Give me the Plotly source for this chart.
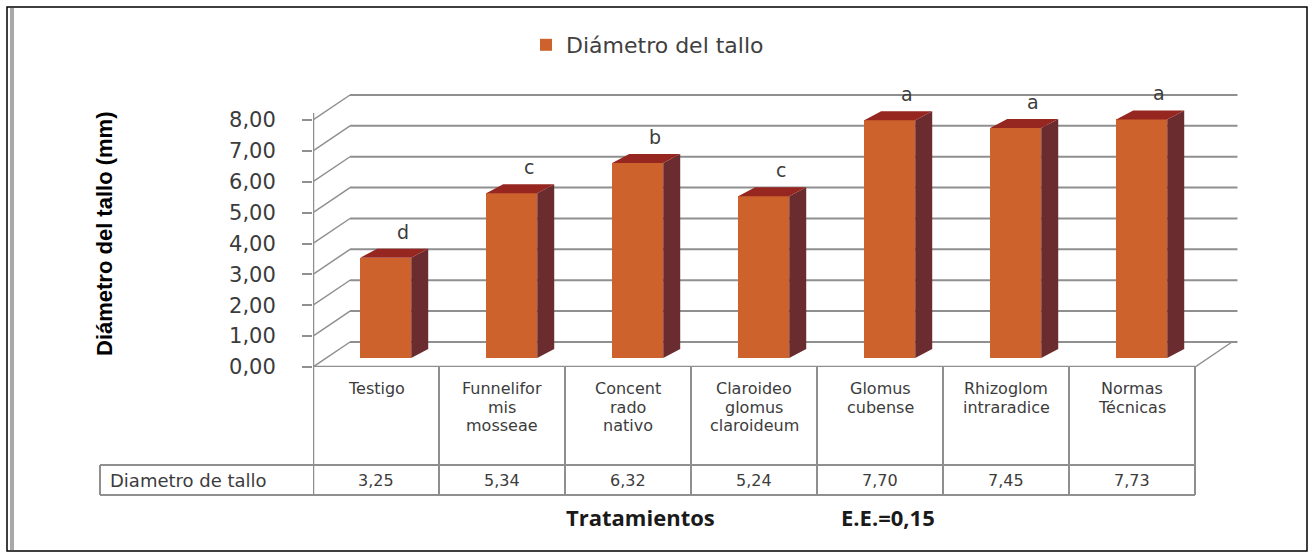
import plotly.graph_objects as go

# ---------------- data ----------------
categories = ["Testigo", "Funnelifor<br>mis<br>mosseae", "Concent<br>rado<br>nativo",
              "Claroideo<br>glomus<br>claroideum", "Glomus<br>cubense",
              "Rhizoglom<br>intraradice", "Normas<br>Técnicas"]
values = [3.25, 5.34, 6.32, 5.24, 7.70, 7.45, 7.73]
letters = ["d", "c", "b", "c", "a", "a", "a"]
y_ticks = [0, 1, 2, 3, 4, 5, 6, 7, 8]
series_name = "Diámetro del tallo"
row_label = "Diametro de tallo"
y_title = "Diámetro del tallo (mm)"
x_title = "Tratamientos"
se_label = "E.E.=0,15"

# ---------------- geometry / style ----------------
W, H = 1312, 557
def px(x): return x / W
def py(y): return 1 - y / H

X0_PX, X1_PX, CAT_PX = 313, 1240, 126
Y0_PX, Y1_PX, UNIT_PX = 367, 85, 30.875
x_range = [-0.5, -0.5 + (X1_PX - X0_PX) / CAT_PX]
y_range = [0, (Y0_PX - Y1_PX) / UNIT_PX]
n = len(values)

wall_dx, wall_dy = 37 / CAT_PX, 25 / UNIT_PX       # depth of back wall
bar_off, bar_w, bar_base = 0.077, 0.405, 0.29       # bar front face
bdx, bdy = 17 / CAT_PX, 9 / UNIT_PX                 # bar depth

FRONT, SIDE, TOP = "#CD622C", "#6B2C2F", "#962620"
GRID = "#8f8f8f"
TXT = "#3c3c3c"

fig = go.Figure()

# front faces of bars
xs = [i + bar_off for i in range(n)]
fig.add_trace(go.Bar(x=xs, y=values, base=[bar_base] * n, width=bar_w,
                     marker=dict(color=FRONT, line=dict(width=0)),
                     name=series_name, showlegend=True, hoverinfo="skip"))

# side and top faces
sx, sy, tx, ty = [], [], [], []
for x, v in zip(xs, values):
    xl, xr = x - bar_w / 2, x + bar_w / 2
    top = v + bar_base
    sx += [xr, xr + bdx, xr + bdx, xr, xr, None]
    sy += [bar_base, bar_base + bdy, top + bdy, top, bar_base, None]
    tx += [xl, xl + bdx, xr + bdx, xr, xl, None]
    ty += [top, top + bdy, top + bdy, top, top, None]
fig.add_trace(go.Scatter(x=sx, y=sy, fill="toself", fillcolor=SIDE, mode="lines",
                         line=dict(width=0, color=SIDE), showlegend=False, hoverinfo="skip"))
fig.add_trace(go.Scatter(x=tx, y=ty, fill="toself", fillcolor=TOP, mode="lines",
                         line=dict(width=0, color=TOP), showlegend=False, hoverinfo="skip"))

shapes = []
# back wall + left wall grid
for v in y_ticks:
    shapes.append(dict(type="line", xref="x", yref="y", layer="below",
                       x0=-0.5 + wall_dx, x1=x_range[1] - 0.02, y0=v + wall_dy, y1=v + wall_dy,
                       line=dict(color=GRID, width=2)))
    shapes.append(dict(type="line", xref="x", yref="y", layer="below",
                       x0=-0.5, x1=-0.5 + wall_dx, y0=v, y1=v + wall_dy,
                       line=dict(color=GRID, width=1.5)))
# floor right edge
shapes.append(dict(type="line", xref="x", yref="y", layer="below",
                   x0=n - 0.5, x1=n - 0.5 + wall_dx, y0=0, y1=wall_dy,
                   line=dict(color=GRID, width=1.5)))
# front floor line / table top
shapes.append(dict(type="line", xref="x", yref="y", x0=-0.6, x1=n - 0.5, y0=0, y1=0,
                   line=dict(color=GRID, width=2.5)))
# vertical axis line (through the table)
shapes.append(dict(type="line", xref="x", yref="paper", x0=-0.5, x1=-0.5,
                   y0=py(495), y1=py(113), line=dict(color=GRID, width=2.5)))
# table column lines
for k in range(1, n + 1):
    shapes.append(dict(type="line", xref="x", yref="paper", x0=k - 0.5, x1=k - 0.5,
                       y0=py(495), y1=py(367), line=dict(color=GRID, width=2)))
# table rows
for yy in (465, 495):
    shapes.append(dict(type="line", xref="paper", yref="paper", x0=px(100),
                       x1=px(X0_PX + CAT_PX * n), y0=py(yy), y1=py(yy),
                       line=dict(color=GRID, width=2)))
shapes.append(dict(type="line", xref="paper", yref="paper", x0=px(100), x1=px(100),
                   y0=py(465), y1=py(495), line=dict(color=GRID, width=2)))
# outer frame
shapes.append(dict(type="rect", xref="paper", yref="paper", x0=px(7), x1=px(1307),
                   y0=py(551), y1=py(7), line=dict(color="#000000", width=1.5)))
shapes.append(dict(type="line", xref="paper", yref="paper", x0=px(12), x1=px(12),
                   y0=py(550), y1=py(8), line=dict(color="#a8a8a8", width=4)))

annotations = []
LINE_PITCH = 18
for i, (c, v, l) in enumerate(zip(categories, values, letters)):
    for j, part in enumerate(c.split("<br>")):
        annotations.append(dict(xref="x", yref="paper", x=i, y=py(389 + LINE_PITCH * j),
                                yanchor="middle", text=part, showarrow=False,
                                font=dict(size=16, color=TXT)))
    annotations.append(dict(xref="x", yref="paper", x=i, y=py(480), yanchor="middle",
                            text=f"{v:.2f}".replace(".", ","), showarrow=False,
                            font=dict(size=16, color=TXT)))
    annotations.append(dict(xref="x", yref="y", x=i + bar_off + 0.14, y=v + bar_base + 0.84,
                            yanchor="middle", text=l, showarrow=False,
                            font=dict(size=19, color=TXT)))
annotations.append(dict(xref="paper", yref="paper", x=px(108), y=py(480), xanchor="left",
                        yanchor="middle", text=row_label, showarrow=False,
                        font=dict(size=18, color=TXT)))
annotations.append(dict(xref="paper", yref="paper", x=px(104), y=py(234), textangle=-90,
                        xanchor="center", yanchor="middle",
                        text=f"<b>{y_title}</b>", showarrow=False,
                        font=dict(size=22, color="#000000", family="Liberation Sans")))
annotations.append(dict(xref="paper", yref="paper", x=px(640), y=py(517),
                        xanchor="center", yanchor="middle",
                        text=f"<b>{x_title}</b>", showarrow=False,
                        font=dict(size=22, color="#1a1a1a", family="Open Sans")))
annotations.append(dict(xref="paper", yref="paper", x=px(888), y=py(517),
                        xanchor="center", yanchor="middle",
                        text=f"<b>{se_label}</b>", showarrow=False,
                        font=dict(size=22, color="#1a1a1a", family="Open Sans")))

fig.update_layout(
    width=W, height=H, margin=dict(l=0, r=0, t=0, b=0),
    paper_bgcolor="white", plot_bgcolor="rgba(0,0,0,0)",
    font=dict(family="DejaVu Sans", color=TXT),
    separators=",.",
    xaxis=dict(domain=[px(X0_PX), px(X1_PX)], range=x_range, visible=False,
               fixedrange=True, automargin=False),
    yaxis=dict(domain=[py(Y0_PX), py(Y1_PX)], range=y_range, tickvals=y_ticks,
               tickformat=".2f", showgrid=False, zeroline=False, showline=False,
               ticks="outside", ticklen=10, tickcolor=GRID, tickwidth=2, automargin=False,
               ticklabelstandoff=22, tickfont=dict(size=21, color=TXT)),
    showlegend=True,
    legend=dict(x=px(526), y=py(45), xanchor="left", yanchor="middle",
                orientation="h", font=dict(size=22, color="#404040"),
                bgcolor="rgba(0,0,0,0)"),
    shapes=shapes, annotations=annotations, bargap=0,
)

fig.write_html("out.html", config={"displayModeBar": False},
               post_script="document.documentElement.style.margin='0';"
                           "document.body.style.margin='0';"
                           "document.body.style.overflow='hidden';")
